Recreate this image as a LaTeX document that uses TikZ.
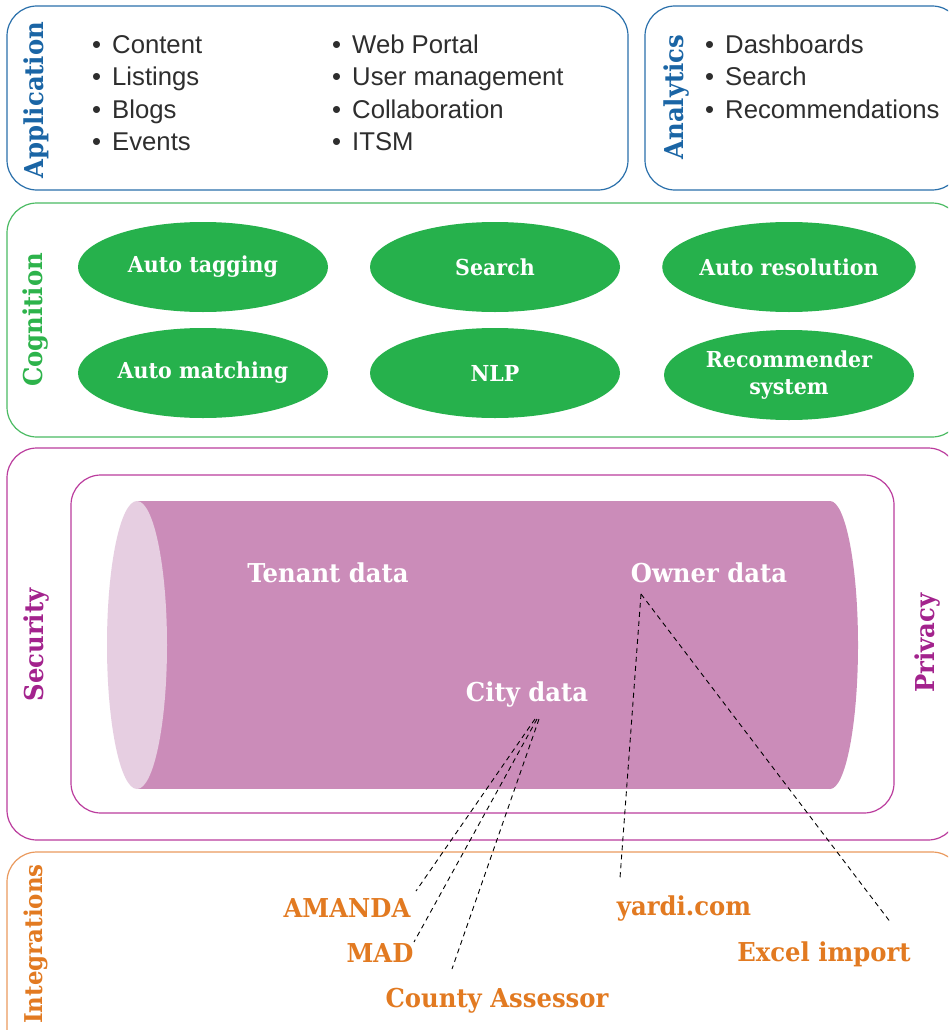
\documentclass[tikz,border=0pt]{standalone}
\usepackage{fontspec}
\setmainfont{Liberation Sans}
\newfontfamily\slab{DejaVu Serif}[FakeStretch=0.935]
\usetikzlibrary{shapes.geometric}
\definecolor{appblue}{HTML}{1A65A5}
\definecolor{appline}{HTML}{2A70AB}
\definecolor{coggreen}{HTML}{2DB34B}
\definecolor{cogline}{HTML}{4BBB63}
\definecolor{ellgreen}{HTML}{26B14C}
\definecolor{secmag}{HTML}{A3238D}
\definecolor{secline}{HTML}{BB3D9E}
\definecolor{cylbody}{HTML}{CB8CB9}
\definecolor{cylcap}{HTML}{E6CEE1}
\definecolor{intorange}{HTML}{E27A21}
\definecolor{intline}{HTML}{EA9A5E}
\definecolor{itemgray}{HTML}{2E2E2E}
\tikzset{
  layerbox/.style={line width=1.2pt, rounded corners=30pt},
  vlabel/.style={rotate=90, font=\slab\bfseries\fontsize{26}{26}\selectfont, inner sep=0pt},
  item/.style={anchor=base west, inner sep=0pt, text=itemgray, font=\fontsize{25.7}{26}\selectfont},
  cogell/.style={ellipse, fill=ellgreen, minimum width=250pt, minimum height=90pt, inner sep=0pt,
     text=white, align=center, font=\slab\bfseries\fontsize{22}{27}\selectfont},
  cyltext/.style={anchor=base, inner sep=0pt, text=white, font=\slab\bfseries\fontsize{26}{26}\selectfont},
  srctext/.style={anchor=base, inner sep=0pt, text=intorange, font=\slab\bfseries\fontsize{26}{26}\selectfont},
  link/.style={dash pattern=on 5pt off 4pt, line width=0.9pt, black}
}
\newcommand{\bul}{\makebox[20pt][l]{•}}
\begin{document}
\begin{tikzpicture}[x=1pt,y=-1pt]
\clip (0,0) rectangle (948,1030);
\fill[white] (0,0) rectangle (948,1030);
% Application
\draw[layerbox, appline] (7,6) rectangle (628,190);
\node[vlabel, text=appblue] (applbl) at (36,100) {Application};
\node[item] (i1) at (92,54) {\bul Content};
\node[item] (i2) at (92,86) {\bul Listings};
\node[item] (i3) at (92,118) {\bul Blogs};
\node[item] (i4) at (92,150) {\bul Events};
\node[item] (i5) at (332,54) {\bul Web Portal};
\node[item] (i6) at (332,86) {\bul User management};
\node[item] (i7) at (332,118) {\bul Collaboration};
\node[item] (i8) at (332,150) {\bul ITSM};
% Analytics
\draw[layerbox, appline] (645,6) rectangle (962,190);
\node[vlabel, text=appblue] (analbl) at (677,97) {Analytics};
\node[item] (a1) at (705,54) {\bul Dashboards};
\node[item] (a2) at (705,86) {\bul Search};
\node[item] (a3) at (705,118) {\bul Recommendations};
% Cognition
\draw[layerbox, cogline] (7,203) rectangle (962,437);
\node[vlabel, text=coggreen] (coglbl) at (36,320) {Cognition};
\node[cogell] (tag) at (203,267) {Auto tagging};
\node[cogell] (srch) at (495,267) {Search};
\node[cogell] (res) at (789,267) {Auto resolution};
\node[cogell] (match) at (203,373) {Auto matching};
\node[cogell] (nlp) at (495,373) {NLP};
\node[cogell] (rec) at (789,375) {Recommender\\system};
% Security / Privacy
\draw[layerbox, secline] (7,448) rectangle (958,840);
\node[vlabel, text=secmag] (seclbl) at (37,645) {Security};
\draw[layerbox, secline] (71,475) rectangle (894,813);
\node[vlabel, text=secmag] (privlbl) at (927,643) {Privacy};
% Cylinder
\fill[cylbody] (137,501) rectangle (830,789);
\fill[cylbody] (830,645) ellipse [x radius=28, y radius=144];
\fill[cylcap] (137,645) ellipse [x radius=30, y radius=144];
\node[cyltext] (tenant) at (328,582) {Tenant data};
\node[cyltext] (owner) at (709,582) {Owner data};
\node[cyltext] (city) at (527,701) {City data};
% Integrations
\draw[layerbox, intline] (7,852) rectangle (962,1060);
\node[vlabel, text=intorange, font=\slab\bfseries\fontsize{24.5}{25}\selectfont] (intlbl) at (36,944) {Integrations};
\node[srctext] (amanda) at (347,917) {AMANDA};
\node[srctext] (mad) at (380,962) {MAD};
\node[srctext] (county) at (497,1007) {County Assessor};
\node[srctext] (yardi) at (684,915) {yardi.com};
\node[srctext] (excel) at (824,961) {Excel import};
% connectors
\coordinate (cityA) at (535,719);
\coordinate (cityB) at (537,719);
\coordinate (cityC) at (539,719);
\coordinate (ownerP) at (641,594);
\coordinate (amandaE) at (416,891);
\coordinate (madE) at (414,942);
\coordinate (countyE) at (452,969);
\coordinate (yardiE) at (620,878);
\coordinate (excelE) at (891,923);
\draw[link] (cityA) -- (amandaE);
\draw[link] (cityB) -- (madE);
\draw[link] (cityC) -- (countyE);
\draw[link] (ownerP) -- (yardiE);
\draw[link] (ownerP) -- (excelE);
\end{tikzpicture}
\end{document}
